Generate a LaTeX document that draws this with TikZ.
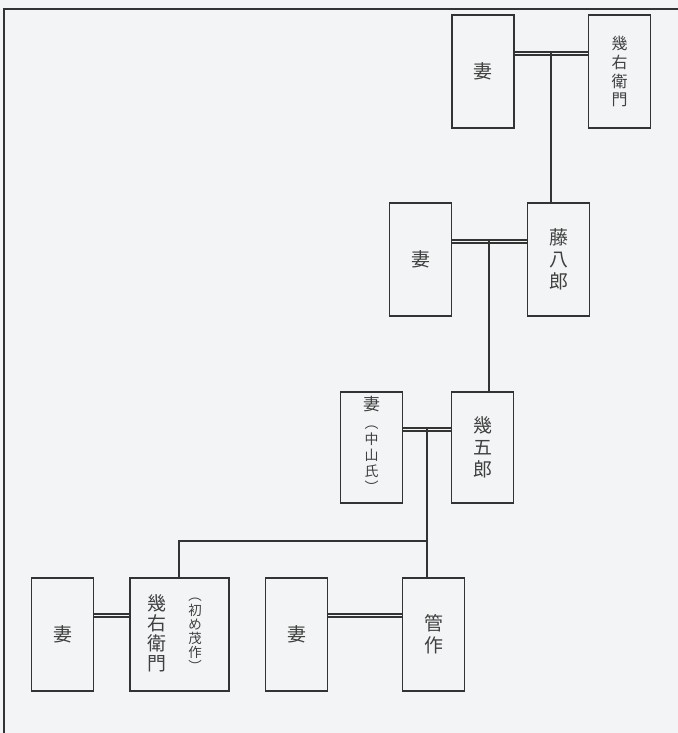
\documentclass[tikz,border=0pt]{standalone}
\usepackage{fontspec}
\newfontfamily\jp{Noto Sans CJK JP}
\definecolor{bg}{HTML}{F3F4F5}
\definecolor{ln}{HTML}{333333}
\definecolor{tx}{HTML}{404040}
\begin{document}
\begin{tikzpicture}[x=1bp,y=-1bp,
  box/.style={draw=ln,line width=1.4bp,rectangle,inner sep=0pt,align=center,text=tx},
  person/.style={box,minimum width=62bp,minimum height=113bp},
  vt/.style={inner sep=0pt,align=center,text=tx},
  single/.style={draw=ln,line width=1.3bp},
  dbl/.style={draw=ln,line width=1.4bp,double=bg,double distance=1.8bp,line cap=butt}]
\fill[bg] (0,0) rectangle (678,733);
\useasboundingbox (0,0) rectangle (678,733);
% outer frame
\coordinate (fTL) at (4,9);
\coordinate (fTR) at (678,9);
\coordinate (fBL) at (4,733);
\draw[draw=ln,line width=1.8bp] (fTR) -- (fTL) -- (fBL);

% generation 1
\node[person,font=\jp\fontsize{19}{22}\selectfont] (w1) at (483,71.5) {妻};
\node[person,font=\jp\fontsize{16}{19}\selectfont] (h1) at (619.5,71.5) {幾\\右\\衛\\門};
\coordinate (j1) at (551,53.5);
\draw[dbl] (w1.east |- j1) -- (h1.west |- j1);

% generation 2
\node[person,font=\jp\fontsize{19}{22}\selectfont] (w2) at (420.5,259.5) {妻};
\node[person,font=\jp\fontsize{19}{22}\selectfont] (h2) at (558.5,259.5) {藤\\八\\郎};
\coordinate (j2) at (489,241.5);
\draw[dbl] (w2.east |- j2) -- (h2.west |- j2);
\draw[single] ([yshift=2bp]j1) -- (h2.north -| j1);

% generation 3
\node[person,minimum height=111bp] (w3) at (371.5,447.5) {};
\node[vt,font=\jp\fontsize{17}{19}\selectfont] (w3a) at (371.5,404) {妻};
\node[vt,font=\jp\fontsize{14}{16}\selectfont] (w3b) at (371.5,459) {︵\\中\\山\\氏\\︶};
\node[person,minimum height=111bp,font=\jp\fontsize{19}{22}\selectfont] (h3) at (482.5,447.5) {幾\\五\\郎};
\coordinate (j3) at (427,429.5);
\draw[dbl] (w3.east |- j3) -- (h3.west |- j3);
\draw[single] ([yshift=2bp]j2) -- (h3.north -| j2);

% generation 4
\node[person] (w4) at (62.5,634.5) {};
\node[vt,font=\jp\fontsize{19}{22}\selectfont] (w4t) at (w4) {妻};
\node[box,minimum width=99bp,minimum height=113bp] (s1) at (179.5,634.5) {};
\node[vt,font=\jp\fontsize{19}{20}\selectfont] (s1a) at (157,633) {幾\\右\\衛\\門};
\node[vt,font=\jp\fontsize{13.5}{14.2}\selectfont] (s1b) at (195,635) {︵\\初\\め\\茂\\作\\︶};
\coordinate (j4) at (0,615.5);
\draw[dbl] (w4.east |- j4) -- (s1.west |- j4);

\node[person,font=\jp\fontsize{19}{22}\selectfont] (w5) at (296.5,634.5) {妻};
\node[person,font=\jp\fontsize{19}{22}\selectfont] (s2) at (433.5,634.5) {管\\作};
\coordinate (j5) at (0,615.5);
\draw[dbl] (w5.east |- j5) -- (s2.west |- j5);

% branch
\coordinate (b1) at (427,541);
\coordinate (b2) at (179,541);
\draw[single] ([yshift=2bp]j3) -- (s2.north -| j3);
\draw[single] (b1) -- (b2) -- (s1.north -| b2);
\end{tikzpicture}
\end{document}
